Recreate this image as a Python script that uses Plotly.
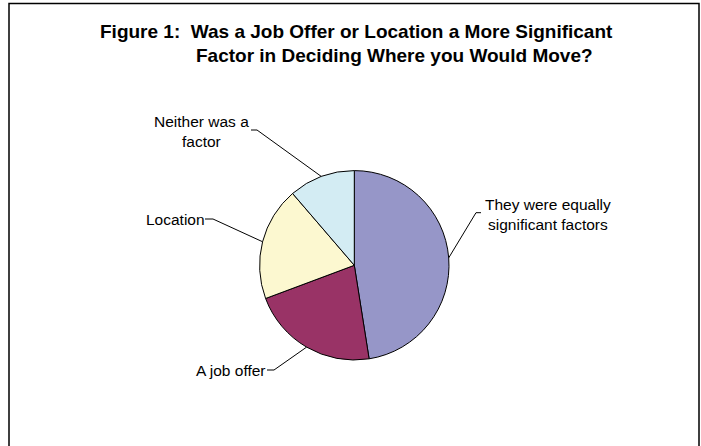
import math
import plotly.graph_objects as go

labels = ["They were equally significant factors", "A job offer", "Location", "Neither was a factor"]
label_text = ["They were equally<br>significant factors", "A job offer", "Location", "Neither was a<br>factor"]
values = [47.5, 21.8, 19.4, 11.3]
colors = ["#9696C8", "#993366", "#FCF8D0", "#D3ECF3"]

W, H = 701, 446
cx, cy, r = 354.3, 265.3, 94.7

# label text centre (pixels)
label_pos = [(548, 214.5), (230.5, 370.5), (175, 219.5), (201, 131)]
# leader line: text end, elbow (pixels)
elbows = [((481, 212.7), (476, 212.7)), ((267, 370), (274, 370)),
          ((205, 219), (213, 219)), ((251, 130), (257, 130))]


def px(x, y):
  return x / W, 1 - y / H


fig = go.Figure()
fig.add_trace(go.Pie(
  labels=labels, values=values, sort=False, direction="clockwise", rotation=0,
  marker=dict(colors=colors, line=dict(color="black", width=1)),
  textinfo="none", hoverinfo="label+percent", showlegend=False,
  domain=dict(x=[(cx - r) / W, (cx + r) / W], y=[1 - (cy + r) / H, 1 - (cy - r) / H]),
))

shapes = []
# outer border
shapes.append(dict(type="rect", xref="paper", yref="paper",
                   x0=9 / W, x1=699 / W, y0=-0.05, y1=1 - 3.5 / H,
                   line=dict(color="black", width=1.5)))

total = sum(values)
start = 0
annotations = []
for i, v in enumerate(values):
  mid = (start + v / 2) / total * 2 * math.pi
  start += v
  ex, ey = cx + r * math.sin(mid), cy - r * math.cos(mid)
  (ax, ay), (bx, by) = elbows[i]
  x0, y0 = px(ax, ay)
  x1, y1 = px(bx, by)
  x2, y2 = px(ex, ey)
  shapes.append(dict(type="path", xref="paper", yref="paper",
                     path=f"M {x0} {y0} L {x1} {y1} L {x2} {y2}",
                     line=dict(color="black", width=1)))
  tx, ty = label_pos[i]
  lx, ly = px(tx, ty)
  annotations.append(dict(x=lx, y=ly, xref="paper", yref="paper", text=label_text[i],
                          showarrow=False, align="center", xanchor="center", yanchor="middle",
                          font=dict(size=15.5, color="black")))

# title lines
annotations.append(dict(x=98 / W, y=1 - 31.5 / H, xref="paper", yref="paper", xanchor="left", yanchor="middle",
                        text="<b>Figure 1:  Was a Job Offer or Location a More Significant</b>",
                        showarrow=False, font=dict(size=19, color="black")))
annotations.append(dict(x=194 / W, y=1 - 55 / H, xref="paper", yref="paper", xanchor="left", yanchor="middle",
                        text="<b>Factor in Deciding Where you Would Move?</b>",
                        showarrow=False, font=dict(size=19, color="black")))

fig.update_layout(
  width=W, height=H, margin=dict(l=0, r=0, t=0, b=0),
  paper_bgcolor="white", plot_bgcolor="white",
  font=dict(family="Arial, Liberation Sans, sans-serif", color="black"),
  shapes=shapes, annotations=annotations,
)

fig.write_html("out.html", config={"displayModeBar": False},
               post_script="document.body.style.margin='0';")
